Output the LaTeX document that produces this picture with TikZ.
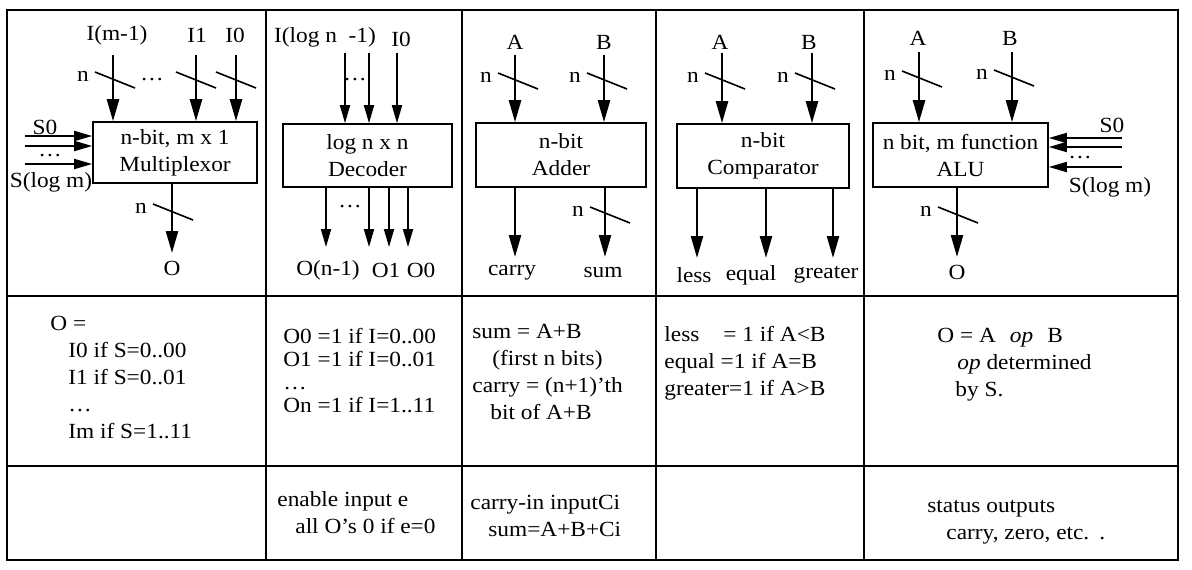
\documentclass[tikz,border=0pt]{standalone}
\usepackage{fontspec}
\setmainfont{Liberation Serif}[FakeStretch=1.08]
\usetikzlibrary{arrows.meta}
\begin{document}
\begin{tikzpicture}[x=0.5pt, y=-0.5pt,
  font=\fontsize{10.8}{13.5}\selectfont,
  grid/.style={line width=0.9pt},
  blk/.style={draw, line width=0.8pt, inner sep=0pt, align=center},
  bus/.style={line width=1.2pt, -{Triangle[length=11pt,width=6pt]}},
  wire/.style={line width=0.9pt, -{Triangle[length=9pt,width=5pt]}},
  slash/.style={line width=0.8pt},
  txt/.style={anchor=north west, align=left, inner sep=0pt}]
\useasboundingbox (0,0) rectangle (1192,569);
\draw[grid] (7,10) rectangle (1178,560);
\draw[grid] (7,296) -- (1178,296) (7,466) -- (1178,466);
\foreach \x in {266,462,656,864} \draw[grid] (\x,10) -- (\x,560);
\node[blk, minimum width=82pt, minimum height=30.5pt] (mux) at (175,152.5) {n-bit, m x 1\\Multiplexor};
\node[blk, minimum width=84.5pt, minimum height=31.5pt] (dec) at (367.5,155.5) {log n x n\\Decoder};
\node[blk, minimum width=85pt, minimum height=32pt] (add) at (561,155) {n-bit\\Adder};
\node[blk, minimum width=86pt, minimum height=32pt] (cmp) at (763,156) {n-bit\\Comparator};
\node[blk, minimum width=87.5pt, minimum height=32pt] (alu) at (960.5,155) {n bit, m function\\ALU};
\coordinate (mi1) at (113,55);
\coordinate (mi2) at (196,55);
\coordinate (mi3) at (236,55);
\coordinate (ms1) at (25,136);
\coordinate (ms2) at (25,146);
\coordinate (ms3) at (25,164);
\coordinate (mo) at (172,253);
\foreach \c in {mi1,mi2,mi3} \draw[bus] (\c) -- (mux.north -| \c);
\foreach \c in {ms1,ms2,ms3} \draw[wire] (\c) -- (\c -| mux.west);
\draw[bus] (mux.south -| mo) -- (mo);
\node (mil1) at (117,35) {I(m-1)};
\node (mil2) at (197,35) {I1};
\node (mil3) at (235,35) {I0};
\node (midots) at (152,80) {\ldots};
\node (msl1) at (45,127) {S0};
\node (msdots) at (50,156) {\ldots};
\node (msl3) at (51,182) {S(log m)};
\node (mol) at (172,268) {O};
\coordinate (di1) at (345,53);
\coordinate (di2) at (369,53);
\coordinate (di3) at (397,53);
\coordinate (do1) at (326,247);
\coordinate (do2) at (369,247);
\coordinate (do3) at (389,247);
\coordinate (do4) at (408,247);
\foreach \c in {di1,di2,di3} \draw[wire] (\c) -- (dec.north -| \c);
\foreach \c in {do1,do2,do3,do4} \draw[wire] (dec.south -| \c) -- (\c);
\node (dil1) at (325,37) {I(log n~~-1)};
\node (dil3) at (401,39) {I0};
\node (didots) at (355,80) {\ldots};
\node (dodots) at (350,207) {\ldots};
\node (dol1) at (328,270) {O(n-1)};
\node (dol3) at (386,270) {O1};
\node (dol4) at (421,270) {O0};
\coordinate (aa) at (515,55);
\coordinate (ab) at (604,55);
\coordinate (ac) at (515,257);
\coordinate (as) at (605,257);
\foreach \c in {aa,ab} \draw[bus] (\c) -- (add.north -| \c);
\foreach \c in {ac,as} \draw[bus] (add.south -| \c) -- (\c);
\node (aal) at (515,42) {A};
\node (abl) at (604,42) {B};
\node (acl) at (512,273) {carry};
\node (asl) at (603,273) {sum};
\coordinate (ca) at (722,53);
\coordinate (cb) at (812,53);
\coordinate (cl) at (697,258);
\coordinate (ce) at (766,258);
\coordinate (cg) at (833,258);
\foreach \c in {ca,cb} \draw[bus] (\c) -- (cmp.north -| \c);
\foreach \c in {cl,ce,cg} \draw[bus] (cmp.south -| \c) -- (\c);
\node (cal) at (720,42) {A};
\node (cbl) at (809,42) {B};
\node (cll) at (694,275) {less};
\node (cel) at (751,275) {equal};
\node (cgl) at (826,275) {greater};
\coordinate (la) at (919,52);
\coordinate (lb) at (1012,52);
\coordinate (ls1) at (1122,138);
\coordinate (ls2) at (1122,147);
\coordinate (ls3) at (1122,167);
\coordinate (lo) at (957,257);
\foreach \c in {la,lb} \draw[bus] (\c) -- (alu.north -| \c);
\foreach \c in {ls1,ls2,ls3} \draw[wire] (\c) -- (\c -| alu.east);
\draw[bus] (alu.south -| lo) -- (lo);
\node (lal) at (918,38) {A};
\node (lbl) at (1010,38) {B};
\node (lsl1) at (1112,125) {S0};
\node (lsdots) at (1080,158) {\ldots};
\node (lsl3) at (1110,187) {S(log m)};
\node (lol) at (957,272) {O};
\foreach \x/\y in {196/80,236/80} \draw[slash] (\x-20,\y-8) -- (\x+20,\y+8);
\foreach \x/\y in {115/80,173/212,518/81,607/81,610/215,725/81,815/81,922/79,1014/78,958/215}
  {\draw[slash] (\x-20,\y-8) -- (\x+20,\y+8);
   \node (n\x) at (\x-32,\y-4) {n};}
\node[txt] (mtxt) at (50,316) {O =\\\hspace*{9pt}I0 if S=0..00\\\hspace*{9pt}I1 if S=0..01\\\hspace*{9pt}\ldots\\\hspace*{9pt}Im if S=1..11};
\node[txt, font=\fontsize{10.8}{11.5}\selectfont] (dtxt) at (283,328) {O0 =1 if I=0..00\\O1 =1 if I=0..01\\\ldots\\On =1 if I=1..11};
\node[txt] (atxt) at (472,324) {sum = A+B\\\hspace*{10pt}(first n bits)\\carry = (n+1)'th\\\hspace*{9pt}bit of A+B};
\node[txt] (ctxt) at (664,326) {less\hspace*{12pt}= 1 if A<B\\equal =1 if A=B\\greater=1 if A>B};
\node[txt] (ltxt) at (937,328) {O = A\hspace{7pt}\textit{op}\hspace{7pt}B\\\hspace*{10pt}\textit{op} determined\\\hspace*{9pt}by S.};
\node[txt] (dnote) at (277,491) {enable input e\\\hspace*{9pt}all O's 0 if e=0};
\node[txt] (anote) at (470,495) {carry-in inputCi\\\hspace*{9pt}sum=A+B+Ci};
\node[txt] (lnote) at (927,500) {status outputs\\\hspace*{9.5pt}carry, zero, etc.\hspace{5pt}.};
\end{tikzpicture}
\end{document}
